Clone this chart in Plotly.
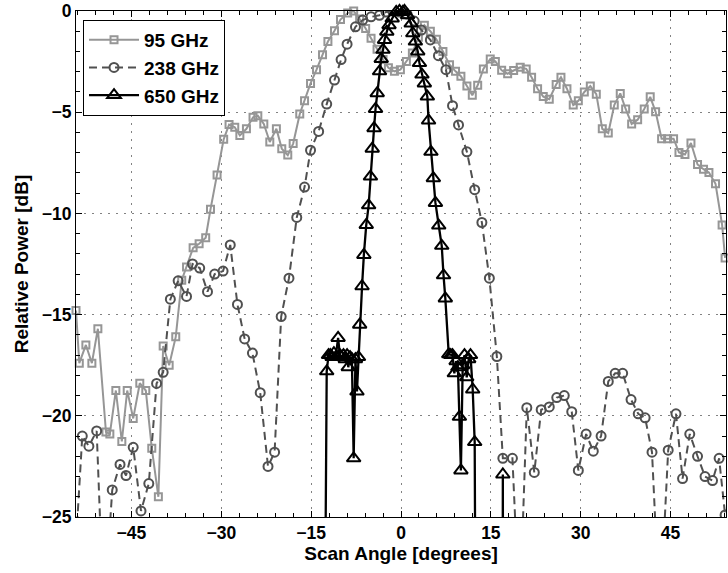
import plotly.graph_objects as go

# ---- data ----
ang_95 = [-54.25, -53.7, -52.6, -51.6, -50.6, -49.25, -48.6, -47.6, -46.6, -45.7, -44.7, -43.6, -42.6, -41.6, -40.5,
          -39.7, -38.7, -37.6, -36.6, -35.8, -34.7, -33.7, -32.6, -31.8, -30.7, -29.6, -28.7, -27.75, -26.9, -25.8,
          -24.7, -23.9, -22.9, -21.9, -20.8, -19.9, -18.9, -18.0, -16.9, -16.1, -15.1, -14.1, -13.1, -12.2, -11.1,
          -10.1, -8.9, -7.9, -6.9, -5.9, -5.0, -4.0, -3.0, -2.1, -1.1, -0.1, 0.9, 1.9, 2.9, 3.9, 4.9, 5.9, 7.0, 8.1,
          9.1, 10.0, 11.0, 11.9, 12.8, 13.75, 14.9, 15.75, 16.8, 17.8, 18.8, 19.9, 20.9, 21.8, 22.8, 23.75, 24.75,
          25.9, 26.7, 27.7, 28.75, 29.6, 30.6, 31.6, 32.6, 33.6, 34.6, 35.6, 36.6, 37.5, 38.5, 39.5, 40.6, 41.6,
          42.5, 43.5, 44.5, 45.5, 46.4, 47.4, 48.4, 49.5, 50.5, 51.4, 52.5, 53.6, 54.1]
pw_95 = [-14.8, -17.4, -16.5, -17.4, -15.7, -20.8, -20.9, -18.75, -21.27, -18.75, -20.13, -18.39, -18.75, -21.6, -24.0,
         -16.55, -17.5, -16.1, -13.3, -12.65, -11.7, -11.5, -11.2, -9.8, -8.1, -6.34, -5.61, -5.74, -6.15, -5.82,
         -5.25, -5.17, -5.58, -6.47, -5.82, -6.8, -7.12, -6.55, -5.09, -4.44, -3.58, -2.9, -2.16, -1.51, -0.98,
         -0.42, -0.1, 0.0, -0.4, -0.86, -1.35, -1.89, -2.4, -2.81, -2.98, -2.9, -2.49, -2.08, -1.3, -0.7, -1.0, -1.4,
         -2.0, -2.65, -2.98, -3.22, -3.7, -4.16, -3.67, -2.86, -2.37, -2.49, -2.93, -3.1, -2.94, -2.78, -2.86, -3.27,
         -3.84, -4.23, -4.36, -3.63, -3.27, -3.84, -4.65, -4.44, -4.0, -3.71, -4.11, -5.82, -6.03, -4.65, -4.07,
         -4.84, -5.58, -5.37, -4.84, -4.24, -4.98, -6.31, -6.31, -6.31, -6.99, -7.09, -6.52, -7.58, -7.82, -7.98,
         -8.54, -10.57, -12.2]

ang_238 = [-54.2, -53.2, -52.1, -50.8, -49.6, -48.2, -46.9, -45.9, -44.7, -43.4, -42.1, -40.8, -39.7, -38.5, -37.2,
           -35.8, -34.8, -33.6, -32.3, -31.1, -29.7, -28.5, -27.3, -26.1, -24.8, -23.5, -22.2, -21.1, -20.0, -18.7,
           -17.4, -16.1, -15.1, -13.75, -12.4, -11.1, -10.0, -9.0, -7.6, -6.4, -5.0, -3.6, -2.5, -1.4, -0.2, 1.0,
           2.2, 3.4, 4.9, 6.25, 7.5, 8.6, 9.6, 11.0, 12.3, 13.5, 14.75, 16.0, 17.0, 18.6, 19.8, 21.0, 22.25, 23.4,
           24.75, 26.0, 27.25, 28.5, 29.6, 30.9, 32.1, 33.4, 34.6, 35.75, 37.0, 38.4, 39.6, 40.75, 41.9, 43.2, 44.6,
           45.9, 47.0, 48.2, 49.5, 50.75, 52.0, 53.1, 54.1]
pw_238 = [-26.0, -21.0, -21.5, -20.75, -30.0, -23.66, -22.4, -22.95, -21.56, -24.7, -23.35, -18.4, -17.85, -14.24,
          -13.33, -14.1, -12.5, -12.7, -13.87, -13.0, -12.85, -11.56, -14.5, -16.2, -16.9, -18.86, -22.5, -21.8,
          -15.1, -13.2, -10.2, -8.7, -6.88, -5.95, -4.6, -3.41, -2.4, -1.64, -0.78, -0.45, -0.29, -0.21, -0.05,
          0.0, -0.05, -0.15, -0.5, -0.94, -1.43, -2.21, -2.9, -4.68, -5.63, -6.96, -8.83, -10.45, -13.2, -17.07,
          -22.1, -22.1, -30.0, -19.6, -22.8, -19.7, -19.56, -19.1, -19.0, -19.8, -22.7, -20.9, -21.75, -21.0,
          -18.3, -17.9, -17.9, -19.2, -19.9, -20.1, -21.8, -30.0, -21.7, -19.9, -23.1, -20.9, -22.0, -23.0,
          -23.2, -22.1, -24.9]

ang_650 = [-12.8, -12.4, -12.1, -11.8, -11.5, -11.2, -10.9, -10.5, -10.2, -9.9, -9.6, -9.3, -9.0, -8.8, -8.5, -8.2,
           -7.9, -7.6, -7.35, -7.1, -6.9, -6.5, -6.2, -5.8, -5.4, -5.1, -4.8, -4.5, -4.25, -3.97, -3.58, -3.3, -3.0,
           -2.75, -2.37, -2.0, -1.47, -0.8, -0.25, 0.3, 0.58, 1.1, 1.7, 1.97, 2.4, 2.8, 3.08, 3.5, 3.9, 4.4, 4.6,
           5.0, 5.4, 5.75, 6.3, 6.8, 7.1, 7.4, 7.97, 8.3, 8.6, 8.9, 9.2, 9.5, 9.75, 10.0, 10.3, 10.6, 10.97, 11.3,
           11.6, 11.97, 12.3, 12.5, 16.95, 17.0, 17.05]
pw_650 = [-35.0, -17.8, -17.0, -17.0, -17.1, -16.9, -17.1, -16.15, -17.0, -17.1, -17.0, -17.2, -17.0, -17.6, -17.1,
          -17.2, -22.1, -17.2, -18.8, -17.1, -15.5, -13.6, -12.05, -10.57, -9.6, -8.18, -6.8, -5.79, -4.84, -4.06,
          -2.98, -2.37, -1.92, -1.43, -1.02, -0.7, -0.37, -0.05, 0.0, -0.05, 0.0, -0.21, -0.62, -1.1, -1.51, -2.0,
          -2.57, -3.14, -3.58, -4.23, -5.41, -6.96, -8.26, -9.48, -10.6, -11.6, -13.06, -14.2, -16.96, -17.0,
          -17.0, -17.9, -17.3, -17.6, -20.05, -22.7, -17.5, -17.0, -18.1, -17.2, -17.0, -18.7, -21.3, -35.0,
          -35.0, -22.9, -35.0]

x_ticks = [-45, -30, -15, 0, 15, 30, 45]
y_ticks = [-25, -20, -15, -10, -5, 0]

FONT = "Liberation Sans, Arial, sans-serif"

fig = go.Figure()
fig.add_trace(go.Scatter(
    x=ang_95, y=pw_95, name="95 GHz", mode="lines+markers", cliponaxis=False,
    line=dict(color="rgb(150,150,150)", width=2),
    marker=dict(symbol="square-open", size=7, color="rgb(150,150,150)",
                line=dict(width=2, color="rgb(150,150,150)"))))
fig.add_trace(go.Scatter(
    x=ang_238, y=pw_238, name="238 GHz", mode="lines+markers",
    line=dict(color="rgb(80,80,80)", width=2, dash="8px,5px"),
    marker=dict(symbol="circle-open", size=9, color="rgb(80,80,80)",
                line=dict(width=2, color="rgb(80,80,80)"))))
fig.add_trace(go.Scatter(
    x=ang_650, y=pw_650, name="650 GHz", mode="lines+markers", cliponaxis=False,
    line=dict(color="black", width=2.3),
    marker=dict(symbol="triangle-up-open", size=12, color="black",
                line=dict(width=2, color="black"))))

axis_common = dict(
    showline=True, linecolor="black", linewidth=1, mirror="ticks",
    ticks="inside", ticklen=6, tickwidth=1, tickcolor="black",
    showgrid=True, gridcolor="rgb(130,130,130)", gridwidth=1, griddash="2px,6px",
    zeroline=False, ticklabeloverflow="allow",
    tickfont=dict(family=FONT, size=17.5, color="black", weight="bold"),
)

fig.update_xaxes(
    range=[-54.25, 54.25], tickvals=x_ticks,
    minor=dict(ticks="inside", ticklen=4, dtick=3, tick0=0, tickcolor="black", showgrid=False),
    title=dict(text="Scan Angle [degrees]", standoff=2,
               font=dict(family=FONT, size=19, color="black", weight="bold")),
    **axis_common)
fig.update_yaxes(
    range=[-25, 0], tickvals=y_ticks,
    minor=dict(ticks="inside", ticklen=4, dtick=1, tick0=0, tickcolor="black", showgrid=False),
    title=dict(text="Relative Power [dB]", standoff=8,
               font=dict(family=FONT, size=19, color="black", weight="bold")),
    **axis_common)

fig.update_layout(
    width=728, height=573,
    margin=dict(l=76, r=1, t=4, b=56),
    paper_bgcolor="white", plot_bgcolor="white",
    showlegend=True,
    legend=dict(x=0.0108, y=0.9825, xanchor="left", yanchor="top",
                bgcolor="white", bordercolor="black", borderwidth=1,
                font=dict(family=FONT, size=19, color="black", weight="bold"),
                tracegroupgap=0, itemwidth=50),
)

fig.write_html("out.html")
